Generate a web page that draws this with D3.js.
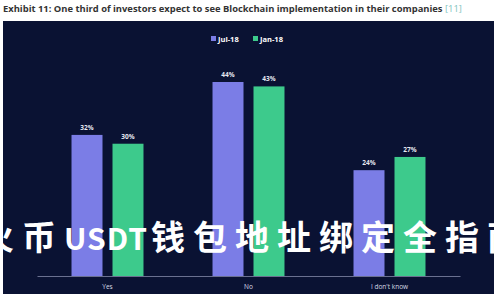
<!DOCTYPE html>
<html>
<head lang="zh">
    <meta charset="UTF-8">
    <title></title>
    <script src="https://cdn.jsdelivr.net/npm/d3@7/dist/d3.min.js"></script>
    <style>
        body { margin: 0; background: #fff; }
    </style>
</head>
<body>
<div id="main"></div>
<script>
    var categories = ["Yes", "No", "I don't know"];
    var seriesNames = ["Jul-18", "Jan-18"];
    var jul18 = [32, 44, 24];
    var jan18 = [30, 43, 27];
    var colors = ["#7b7de6", "#3dca8c"];

    var W = 500, H = 300;
    var svg = d3.select("#main").append("svg")
            .attr("width", W).attr("height", H)
            .style("display", "block");

    // title
    var t = svg.append("text")
            .attr("x", 3).attr("y", 12)
            .attr("font-family", "Open Sans, sans-serif")
            .attr("font-weight", "bold")
            .attr("font-size", 9.4)
            .attr("fill", "#333");
    t.append("tspan").text("Exhibit 11: One third of investors expect to see Blockchain implementation in their companies ");
    t.append("tspan").attr("fill", "#7fc4c0").attr("font-weight", "normal").text("[11]");

    // dark panel
    svg.append("rect")
            .attr("x", 3).attr("y", 21)
            .attr("width", 491).attr("height", 273)
            .attr("fill", "#0a1233");

    var x0 = d3.scaleBand().domain(categories).range([37, 460]).padding(0);
    var x1 = d3.scaleBand().domain(seriesNames).range([0, x0.bandwidth()])
            .paddingInner(0.244).paddingOuter(0.842);
    var y = d3.scaleLinear().domain([0, 44]).range([276, 82]);

    var rows = categories.map(function(c, i){
        return {cat: c, vals: [jul18[i], jan18[i]]};
    });

    var g = svg.selectAll("g.cat").data(rows).enter().append("g")
            .attr("transform", function(d){ return "translate(" + x0(d.cat) + ",0)"; });

    g.selectAll("rect").data(function(d){
        return d.vals.map(function(v, j){ return {s: seriesNames[j], v: v, j: j}; });
    }).enter().append("rect")
            .attr("x", function(d){ return x1(d.s); })
            .attr("y", function(d){ return y(d.v); })
            .attr("width", x1.bandwidth())
            .attr("height", function(d){ return y(0) - y(d.v); })
            .attr("fill", function(d){ return colors[d.j]; });

    g.selectAll("text.val").data(function(d){
        return d.vals.map(function(v, j){ return {s: seriesNames[j], v: v}; });
    }).enter().append("text")
            .attr("x", function(d){ return x1(d.s) + x1.bandwidth() / 2; })
            .attr("y", function(d){ return y(d.v) - 5; })
            .attr("text-anchor", "middle")
            .attr("font-family", "Open Sans, sans-serif")
            .attr("font-weight", "bold")
            .attr("font-size", 6.5)
            .attr("fill", "#e6e8f0")
            .text(function(d){ return d.v + "%"; });

    // x axis
    var axis = svg.append("g").attr("transform", "translate(0,276)")
            .call(d3.axisBottom(x0).tickSize(0).tickPadding(8));
    axis.select(".domain").attr("stroke", "#6a7090").attr("stroke-width", 1);
    axis.selectAll("text")
            .attr("font-family", "Open Sans, sans-serif")
            .attr("font-size", 6.5)
            .attr("fill", "#d8dbe6");

    // legend
    var leg = svg.selectAll("g.leg").data(seriesNames).enter().append("g")
            .attr("transform", function(d, i){ return "translate(" + (211 + i * 42) + ",39)"; });
    leg.append("rect").attr("x", 0).attr("y", -3).attr("width", 5).attr("height", 5)
            .attr("fill", function(d, i){ return colors[i]; });
    leg.append("text").attr("x", 7).attr("y", 2.5)
            .attr("font-family", "Open Sans, sans-serif")
            .attr("font-weight", "bold")
            .attr("font-size", 7.5)
            .attr("fill", "#fff")
            .text(function(d){ return d; });

    // overlay caption (runs off both edges, as in the original)
    var cap = svg.append("text")
            .attr("x", -20).attr("y", 250)
            .attr("font-family", "Noto Sans CJK SC, sans-serif")
            .attr("font-weight", "700")
            .attr("font-size", 34)
            .attr("fill", "#fff");
    cap.append("tspan").attr("letter-spacing", 8).text("火币");
    cap.append("tspan").attr("font-size", 30).attr("letter-spacing", 1).text("USDT");
    cap.append("tspan").attr("dx", 3).attr("letter-spacing", 8).text("钱包地址绑定全指南");
</script>
</body>
</html>
